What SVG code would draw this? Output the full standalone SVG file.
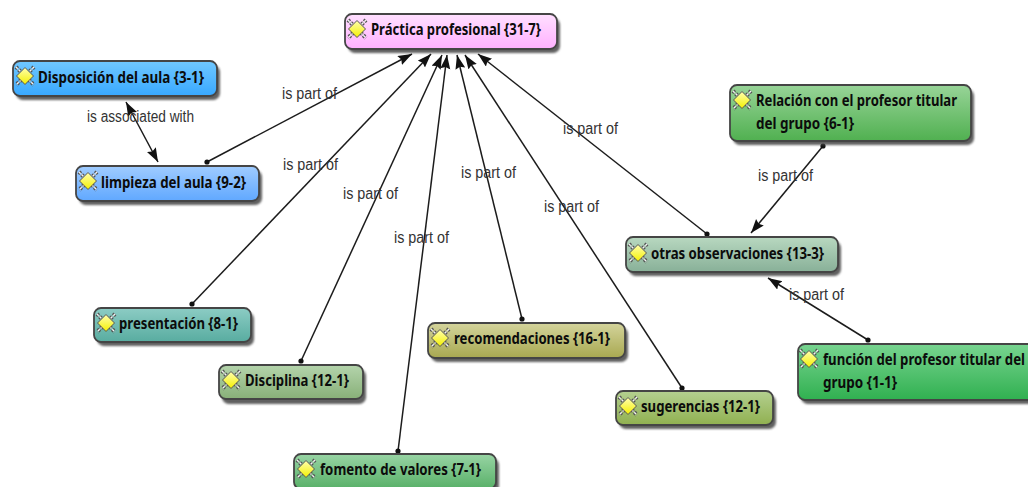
<svg xmlns="http://www.w3.org/2000/svg" xmlns:xlink="http://www.w3.org/1999/xlink" width="1028" height="487" viewBox="0 0 1028 487">
<style>
.box{stroke:#454545;stroke-width:1.8}
.sh{fill:#444;filter:url(#blur);opacity:.85}
.t{font-family:"Noto Sans","Liberation Sans",sans-serif;font-weight:700;font-size:16px;fill:#0c0c0c}
.l{font-family:"Liberation Sans",sans-serif;font-size:16px;fill:#333}
.c{fill:none;stroke:#1c1c1c;stroke-width:1.5}
.a{marker-end:url(#arr)}
.d{marker-start:url(#dot)}
.b{marker-start:url(#arrs)}
</style>
<defs>
<filter id="blur" x="-10%" y="-30%" width="120%" height="160%"><feGaussianBlur stdDeviation="1.2"/></filter>
<marker id="arr" markerUnits="userSpaceOnUse" markerWidth="16" markerHeight="12" refX="14" refY="5" orient="auto"><path d="M0 0L14 5L0 10L2 5Z" fill="#111"/></marker>
<marker id="arrs" markerUnits="userSpaceOnUse" markerWidth="16" markerHeight="12" refX="0" refY="5" orient="auto"><path d="M14 0L0 5L14 10L12 5Z" fill="#111"/></marker>
<marker id="dot" markerUnits="userSpaceOnUse" markerWidth="6" markerHeight="6" refX="3" refY="3"><circle cx="3" cy="3" r="2.6" fill="#111"/></marker>
<linearGradient id="g1" x1="0" y1="0" x2="0" y2="1"><stop offset="0" stop-color="#ffe0ff"/><stop offset="1" stop-color="#ffb0ff"/></linearGradient>
<linearGradient id="g2" x1="0" y1="0" x2="0" y2="1"><stop offset="0" stop-color="#70c8ff"/><stop offset="1" stop-color="#38a8ff"/></linearGradient>
<linearGradient id="g3" x1="0" y1="0" x2="0" y2="1"><stop offset="0" stop-color="#a0ccff"/><stop offset="1" stop-color="#60a8ff"/></linearGradient>
<linearGradient id="g4" x1="0" y1="0" x2="0" y2="1"><stop offset="0" stop-color="#98d498"/><stop offset="1" stop-color="#50b050"/></linearGradient>
<linearGradient id="g5" x1="0" y1="0" x2="0" y2="1"><stop offset="0" stop-color="#b8d8c0"/><stop offset="1" stop-color="#88b098"/></linearGradient>
<linearGradient id="g6" x1="0" y1="0" x2="0" y2="1"><stop offset="0" stop-color="#78d490"/><stop offset="1" stop-color="#30b050"/></linearGradient>
<linearGradient id="g7" x1="0" y1="0" x2="0" y2="1"><stop offset="0" stop-color="#b4d090"/><stop offset="1" stop-color="#90b050"/></linearGradient>
<linearGradient id="g8" x1="0" y1="0" x2="0" y2="1"><stop offset="0" stop-color="#d4d49c"/><stop offset="1" stop-color="#a8a850"/></linearGradient>
<linearGradient id="g9" x1="0" y1="0" x2="0" y2="1"><stop offset="0" stop-color="#b4d4ac"/><stop offset="1" stop-color="#88b078"/></linearGradient>
<linearGradient id="g10" x1="0" y1="0" x2="0" y2="1"><stop offset="0" stop-color="#8cccc4"/><stop offset="1" stop-color="#58aca0"/></linearGradient>
<linearGradient id="g11" x1="0" y1="0" x2="0" y2="1"><stop offset="0" stop-color="#98d4a4"/><stop offset="1" stop-color="#58b068"/></linearGradient>
<linearGradient id="ic" x1="0" y1="0" x2="0" y2="1"><stop offset="0" stop-color="#ffffb0"/><stop offset="1" stop-color="#f4f000"/></linearGradient>
<g id="icon">
<path d="M-9-9L9 9M9-9L-9 9" stroke="#555" stroke-width="4" stroke-dasharray="2.4 1.2" fill="none"/>
<path d="M-9-9L9 9M9-9L-9 9" stroke="#f4f4f4" stroke-width="1.4" stroke-dasharray="2.4 1.2" fill="none"/>
<path d="M0-8.5L8.5 0L0 8.5L-8.5 0Z" fill="url(#ic)" stroke="#555" stroke-width="1"/>
</g>
</defs>
<rect width="1028" height="487" fill="#fff"/>
<g id="connectors">
<line class="c d a" x1="207" y1="162" x2="412" y2="54"/>
<line class="c d a" x1="192" y1="304" x2="431" y2="54"/>
<line class="c d a" x1="301" y1="361" x2="442" y2="55"/>
<line class="c d a" x1="398" y1="451" x2="447" y2="55"/>
<line class="c d a" x1="522" y1="319" x2="457" y2="55"/>
<line class="c d a" x1="682" y1="388" x2="465" y2="55"/>
<line class="c d a" x1="707" y1="234" x2="478" y2="54"/>
<line class="c d a" x1="823" y1="146" x2="751" y2="233"/>
<line class="c d a" x1="868" y1="340" x2="768" y2="278"/>
<line class="c b a" x1="126" y1="102" x2="158" y2="162"/>
<text class="l" x="282" y="99" textLength="55" lengthAdjust="spacingAndGlyphs">is part of</text>
<text class="l" x="283" y="170" textLength="55" lengthAdjust="spacingAndGlyphs">is part of</text>
<text class="l" x="343" y="199" textLength="55" lengthAdjust="spacingAndGlyphs">is part of</text>
<text class="l" x="394" y="243" textLength="55" lengthAdjust="spacingAndGlyphs">is part of</text>
<text class="l" x="461" y="178" textLength="55" lengthAdjust="spacingAndGlyphs">is part of</text>
<text class="l" x="544" y="212" textLength="55" lengthAdjust="spacingAndGlyphs">is part of</text>
<text class="l" x="563" y="134" textLength="55" lengthAdjust="spacingAndGlyphs">is part of</text>
<text class="l" x="758" y="181" textLength="55" lengthAdjust="spacingAndGlyphs">is part of</text>
<text class="l" x="789" y="300" textLength="55" lengthAdjust="spacingAndGlyphs">is part of</text>
<text class="l" x="87" y="122" textLength="107" lengthAdjust="spacingAndGlyphs">is associated with</text>
</g>
<g id="n-practica"><rect class="sh" x="348" y="18" width="212" height="35" rx="7"/><rect class="box" x="345" y="14" width="212" height="35" rx="7" fill="url(#g1)"/><use href="#icon" x="357" y="29"/><text class="t" x="371" y="35" textLength="170" lengthAdjust="spacingAndGlyphs">Práctica profesional {31-7}</text></g>
<g id="n-disposicion"><rect class="sh" x="16" y="65" width="204" height="35" rx="7"/><rect class="box" x="13" y="61" width="204" height="35" rx="7" fill="url(#g2)"/><use href="#icon" x="25" y="76"/><text class="t" x="38" y="83" textLength="166" lengthAdjust="spacingAndGlyphs">Disposición del aula {3-1}</text></g>
<g id="n-limpieza"><rect class="sh" x="79" y="170" width="183" height="35" rx="7"/><rect class="box" x="76" y="166" width="183" height="35" rx="7" fill="url(#g3)"/><use href="#icon" x="88" y="181"/><text class="t" x="101" y="188" textLength="145" lengthAdjust="spacingAndGlyphs">limpieza del aula {9-2}</text></g>
<g id="n-relacion"><rect class="sh" x="733" y="89" width="241" height="56" rx="7"/><rect class="box" x="730" y="85" width="241" height="56" rx="7" fill="url(#g4)"/><use href="#icon" x="742" y="100"/><text class="t" x="756" y="106" textLength="201" lengthAdjust="spacingAndGlyphs">Relación con el profesor titular</text><text class="t" x="756" y="129" textLength="98" lengthAdjust="spacingAndGlyphs">del grupo {6-1}</text></g>
<g id="n-otras"><rect class="sh" x="629" y="241" width="212" height="35" rx="7"/><rect class="box" x="626" y="237" width="212" height="35" rx="7" fill="url(#g5)"/><use href="#icon" x="638" y="253"/><text class="t" x="651" y="259" textLength="173" lengthAdjust="spacingAndGlyphs">otras observaciones {13-3}</text></g>
<g id="n-funcion"><rect class="sh" x="801" y="348" width="240" height="56" rx="7"/><rect class="box" x="798" y="344" width="240" height="56" rx="7" fill="url(#g6)"/><use href="#icon" x="809" y="359"/><text class="t" x="823" y="365" textLength="202" lengthAdjust="spacingAndGlyphs">función del profesor titular del</text><text class="t" x="823" y="388" textLength="74" lengthAdjust="spacingAndGlyphs">grupo {1-1}</text></g>
<g id="n-sugerencias"><rect class="sh" x="619" y="395" width="157" height="34" rx="7"/><rect class="box" x="616" y="391" width="157" height="34" rx="7" fill="url(#g7)"/><use href="#icon" x="628" y="406"/><text class="t" x="641" y="412" textLength="119" lengthAdjust="spacingAndGlyphs">sugerencias {12-1}</text></g>
<g id="n-recomendaciones"><rect class="sh" x="431" y="327" width="197" height="35" rx="7"/><rect class="box" x="428" y="323" width="197" height="35" rx="7" fill="url(#g8)"/><use href="#icon" x="440" y="338"/><text class="t" x="454" y="344" textLength="156" lengthAdjust="spacingAndGlyphs">recomendaciones {16-1}</text></g>
<g id="n-disciplina"><rect class="sh" x="222" y="369" width="144" height="35" rx="7"/><rect class="box" x="219" y="365" width="144" height="34" rx="7" fill="url(#g9)"/><use href="#icon" x="231" y="380"/><text class="t" x="245" y="386" textLength="104" lengthAdjust="spacingAndGlyphs">Disciplina {12-1}</text></g>
<g id="n-presentacion"><rect class="sh" x="97" y="312" width="157" height="34" rx="7"/><rect class="box" x="94" y="308" width="157" height="34" rx="7" fill="url(#g10)"/><use href="#icon" x="106" y="323"/><text class="t" x="119" y="329" textLength="119" lengthAdjust="spacingAndGlyphs">presentación {8-1}</text></g>
<g id="n-fomento"><rect class="sh" x="297" y="458" width="202" height="35" rx="7"/><rect class="box" x="294" y="454" width="202" height="35" rx="7" fill="url(#g11)"/><use href="#icon" x="306" y="469"/><text class="t" x="320" y="475" textLength="161" lengthAdjust="spacingAndGlyphs">fomento de valores {7-1}</text></g>
</svg>
